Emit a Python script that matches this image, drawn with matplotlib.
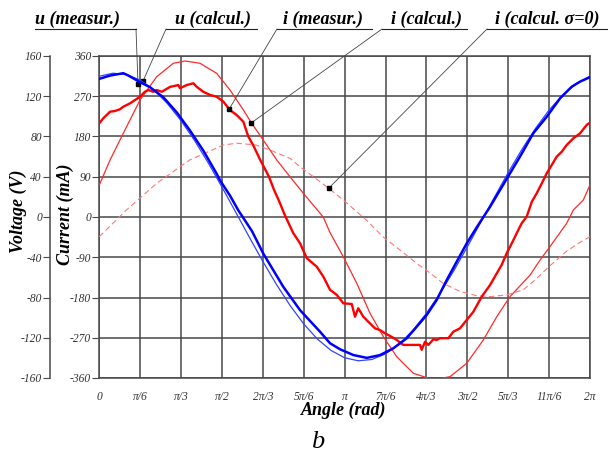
import matplotlib
matplotlib.use("Agg")
from matplotlib import pyplot as plt
from matplotlib.lines import Line2D

# angle in degrees, voltage in V, current in mA
u_meas_ang = [0, 8, 17.6, 21.3, 29.9, 37.2, 47, 56.8, 66.5, 76.3, 86.1, 88.6, 96, 102, 112,
              120.3, 135, 147.3, 162, 169.3, 176.7, 186.4, 196.3, 206, 215.7, 225.5, 232.9,
              240.2, 247.5, 254.9, 262.2, 269.6, 277, 286.7, 294, 301.3, 308.6, 318.4, 328.3,
              338.1, 346.6, 352.7, 360]
u_meas = [137.3, 140.6, 142.9, 140.6, 134, 129, 119, 104, 86, 66, 43, 36.4, 21, 6.6, -14,
          -36.3, -69.4, -92.6, -114.1, -125.5, -131.5, -137.2, -140, -137.2, -130.5, -120.6, -109,
          -97.4, -82.5, -62.6, -44.4, -26.1, -10, 10.2, 26.8, 43.4, 59.9, 83.2, 99.7,
          118, 129.5, 134.5, 139]

u_calc_ang = list(range(0, 361, 10))
u_calc = [139.9, 142.9, 141.6, 136.0, 126.3, 112.7, 95.7, 75.8, 53.6, 29.7, 5.0, -19.9, -44.2,
          -67.1, -88.0, -106.3, -121.3, -132.6, -139.9, -142.9, -141.6, -136.0, -126.3, -112.7,
          -95.7, -75.8, -53.6, -29.7, -5.0, 19.9, 44.2, 67.1, 88.0, 106.3, 121.3, 132.6, 139.9]

i_meas_ang = [0, 2.9, 5.4, 7.9, 11.5, 15.2, 17.6, 22.5, 26.2, 29.9, 33.5, 36, 39.6, 42.1, 45.8,
              51.9, 58, 59.2, 64.1, 69, 71.5, 76.3, 81.2, 86.1, 91, 95.9, 100.8, 105.7, 109.3,
              113, 118, 124.5, 128, 132, 136, 142.3, 147.3, 152.2, 159.5, 164.3, 166.8, 169.3,
              174.2, 179, 185.2, 187.6, 190, 193.7, 198.6, 202.3, 206, 209.6, 214.5, 218.2, 223,
              230.4, 235.3, 236.5, 239, 241.4, 245.1, 247.5, 249.9, 256.1, 259.7, 264.6, 269.6,
              274.4, 280.6, 286.7, 291.6, 295.2, 298.9, 302.6, 307.4, 309.9, 313.6, 317.3, 320.9,
              324.6, 328.3, 331.9, 335.6, 339.3, 342.9, 347.8, 352.7, 357.6, 360]
i_meas = [209.5, 220.7, 228, 235.5, 237, 241, 246.6, 254, 261.6, 269, 280, 284, 280, 284, 280,
          291, 295, 288, 295, 299, 291, 280, 273, 269, 258, 239, 228, 213, 180,
          160, 128, 90, 62, 35, 5, -36, -59, -92, -111, -133, -148, -163,
          -174, -193, -194.5, -223, -204, -223, -238, -249, -253, -260, -268, -275, -286,
          -286, -286, -297, -279, -286, -273.5, -275, -271, -271, -256.5, -249, -230,
          -212, -178, -152, -126, -107, -81, -59, -29, -14, 1, 34, 53,
          75, 98, 116, 135, 146, 161, 176, 187, 206, 211]

i_calc_ang = [0, 7.9, 17.6, 29.9, 42.1, 54.3, 62.9, 73.9, 86.1, 95.9, 105.7, 111.8, 120.3, 130.2,
              139.9, 149.7, 164.3, 169.3, 179, 188.9, 198.6, 208.4, 218.2, 230.4, 245.1, 257.3,
              269.6, 281.7, 291.6, 301.3, 316, 323.4, 330.7, 342.9, 347.8, 355.1, 360]
i_calc = [71.6, 127.4, 187.2, 261.6, 313.7, 343.7, 348.8, 343.7, 321.3, 284, 239.3, 209.5, 172,
          127.5, 90, 53, 0, -35, -88.8, -148.3, -215.3, -267.6, -312.4, -349.5, -364, -357,
          -327, -275, -223, -178, -130, -96, -66, -14, 15.7, 38, 71.6]

i_s0_ang = [0, 20, 42, 66, 91, 101, 115, 125, 140, 147, 168, 179, 196, 208, 219, 233, 243, 252,
            265, 277, 287, 299, 311, 320, 331, 343, 352, 360]
i_s0 = [-44, 16, 75, 127, 161, 165, 161, 150, 131, 113, 65, 38, -7, -44, -70, -104, -126, -148,
        -167, -176, -178, -174, -163, -140, -108, -76, -58, -44]

angle_ticks = list(range(0, 361, 30))
angle_labels = ["0", "π/6", "π/3", "π/2", "2π/3", "5π/6", "π", "7π/6", "4π/3", "3π/2",
                "5π/3", "11π/6", "2π"]
current_ticks = list(range(-360, 361, 90))
voltage_ticks = list(range(-160, 161, 40))

W, H = 613, 457
serif = "Liberation Serif"
grid_c = "#484848"
tick_font = dict(family=serif, style="italic", size=8.3)
label_font = dict(family=serif, style="italic", weight="bold", size=13)

fig = plt.figure(figsize=(W / 100, H / 100), dpi=100)
ax = fig.add_axes([99.3 / W, 1 - 378 / H, 490.7 / W, 322 / H])

ax.plot(i_s0_ang, i_s0, color="#ff7878", lw=0.8, ls=(0, (5, 3)), zorder=3)
ax.plot(i_calc_ang, i_calc, color="#ff2a2a", lw=0.9, zorder=4)
ax.plot(i_meas_ang, i_meas, color="#ff0000", lw=1.7, zorder=5)

ax.set_xlim(0, 360)
ax.set_ylim(-360, 360)
ax.set_xticks(angle_ticks)
ax.set_xticklabels(angle_labels, fontdict=tick_font, color="#333333")
ax.set_yticks(current_ticks)
ax.set_yticklabels([str(t) for t in current_ticks], fontdict=tick_font, color="#333333")
ax.grid(True, color=grid_c, lw=1.1)
ax.set_axisbelow(True)
for s in ax.spines.values():
    s.set_color(grid_c)
    s.set_linewidth(1.1)
ax.tick_params(axis="x", length=0, pad=9)
ax.tick_params(axis="y", direction="out", length=5, width=0.8, color=grid_c, pad=1)

ax2 = ax.twinx()
ax2.plot(u_calc_ang, u_calc, color="#3344ff", lw=0.9, zorder=3)
ax2.plot(u_meas_ang, u_meas, color="#0000ff", lw=1.8, zorder=4)
ax2.set_ylim(-160, 160)
ax2.patch.set_visible(False)
ax2.spines["right"].set_visible(False)
ax2.spines["top"].set_visible(False)
ax2.spines["bottom"].set_visible(False)
ax2.spines["left"].set_position(("axes", -49.0 / 490.7))
ax2.spines["left"].set_color(grid_c)
ax2.spines["left"].set_linewidth(1.1)
ax2.yaxis.set_ticks_position("left")
ax2.set_yticks(voltage_ticks)
ax2.set_yticklabels([str(t) for t in voltage_ticks], fontdict=tick_font, color="#333333")
ax2.tick_params(axis="y", direction="out", length=5, width=0.8, color=grid_c, pad=1)

fig.text(18 / W, 1 - 211 / H, "Voltage (V)", rotation=90, ha="center", va="center", **label_font)
fig.text(65 / W, 1 - 214 / H, "Current (mA)", rotation=90, ha="center", va="center", **label_font)
fig.text(343.5 / W, 1 - 410 / H, "Angle (rad)", ha="center", va="center", **label_font)
fig.text(318 / W, 1 - 442 / H, "b", ha="center", va="center", family=serif, style="italic", size=19)

# callout labels: text, text start, underline span (px), anchor end, target on curve (deg, mA)
callouts = [
    ("u (measur.)", 35, 35, 136, 136, (28.4, 297)),
    ("u (calcul.)", 175, 166, 257, 166, (32.1, 304)),
    ("i (measur.)", 283, 277, 372, 277, (95.2, 241)),
    ("i (calcul.)", 391, 382, 467, 382, (111.3, 210)),
    ("i (calcul. σ=0)", 495, 487, 607, 487, (168.5, 65)),
]
for text, xt, x0, x1, xa, target in callouts:
    fig.text(xt / W, 1 - 19 / H, text, ha="left", va="center", **label_font)
    fig.add_artist(Line2D([x0 / W, x1 / W], [1 - 29 / H, 1 - 29 / H],
                          color="#222222", lw=0.8, transform=fig.transFigure))
    ax.annotate("", xy=target, xycoords="data", xytext=(xa, H - 29), textcoords="figure pixels",
                arrowprops=dict(arrowstyle="-", color="#444444", lw=0.6, shrinkA=0, shrinkB=0),
                annotation_clip=False, zorder=8)
    ax.plot([target[0]], [target[1]], marker="s", ms=2.5, color="black", zorder=9, clip_on=False)

fig.savefig("out.png", dpi=100)
